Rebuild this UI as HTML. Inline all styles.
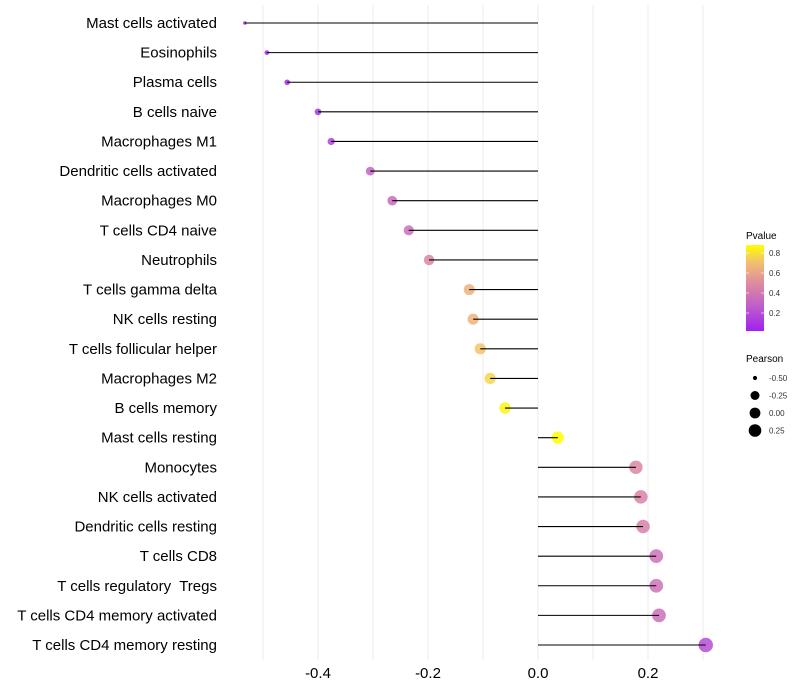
<!DOCTYPE html>
<html><head><meta charset="utf-8"><style>
html,body{margin:0;padding:0;background:#fff;}
svg{display:block;font-family:"Liberation Sans",Arial,sans-serif;}
</style></head><body>
<svg id="chart" width="800" height="700" viewBox="0 0 800 700">
<defs>
<linearGradient id="pgrad" x1="0" y1="1" x2="0" y2="0">
<stop offset="0" stop-color="#a020f0"/>
<stop offset="0.3" stop-color="#c060c8"/>
<stop offset="0.55" stop-color="#de8aa0"/>
<stop offset="0.8" stop-color="#f2c070"/>
<stop offset="1" stop-color="#ffff00"/>
</linearGradient>
</defs>
<g id="grid"></g>
<g id="marks"></g>
<g id="ylabels"></g>
<g id="xticks"></g>
<g>
<text x="746" y="239" font-size="10" fill="#000">Pvalue</text>
<rect x="746" y="245" width="18" height="86" fill="url(#pgrad)"/>
<g id="cbticks"></g>
</g>
<g id="sizelegend">
<text x="746" y="362" font-size="10" fill="#000">Pearson</text>
</g>
</svg>
<script>
const categories = ["Mast cells activated","Eosinophils","Plasma cells","B cells naive","Macrophages M1","Dendritic cells activated","Macrophages M0","T cells CD4 naive","Neutrophils","T cells gamma delta","NK cells resting","T cells follicular helper","Macrophages M2","B cells memory","Mast cells resting","Monocytes","NK cells activated","Dendritic cells resting","T cells CD8","T cells regulatory  Tregs","T cells CD4 memory activated","T cells CD4 memory resting"];
const pearson = [-0.533,-0.493,-0.456,-0.40,-0.376,-0.305,-0.265,-0.235,-0.198,-0.125,-0.118,-0.105,-0.087,-0.06,0.036,0.178,0.187,0.191,0.215,0.215,0.22,0.305];
const pvalue = [0.02,0.05,0.07,0.12,0.14,0.30,0.33,0.35,0.47,0.65,0.66,0.72,0.77,0.85,0.88,0.48,0.45,0.44,0.37,0.37,0.36,0.20];
const xTicks = [-0.4,-0.2,0.0,0.2];
const xTickLabels = ["-0.4","-0.2","0.0","0.2"];
const cbTicks = [0.2,0.4,0.6,0.8];
const sizeLegendVals = [-0.5,-0.25,0,0.25];
const sizeLegendLabels = ["-0.50","-0.25","0.00","0.25"];

const NS="http://www.w3.org/2000/svg";
const X0=538, XS=550;
const xScale=v=>X0+v*XS;
const yScale=i=>23+i*(622/21);
const sizeScale=p=>{
  const ps=[-0.55,-0.5,-0.25,0,0.25,0.35], rs=[1.5,2.3,5,6,7,7.4];
  if(p<=ps[0])return rs[0]; if(p>=ps[ps.length-1])return rs[rs.length-1];
  for(let i=0;i<ps.length-1;i++) if(p<=ps[i+1]){const t=(p-ps[i])/(ps[i+1]-ps[i]);return rs[i]+t*(rs[i+1]-rs[i]);}
};
const stops=[[0,[160,32,240]],[0.3,[192,96,200]],[0.55,[222,138,160]],[0.8,[242,192,112]],[1,[255,255,0]]];
const pMin=0.02,pMax=0.88;
function colorScale(p){
  let t=Math.max(0,Math.min(1,(p-pMin)/(pMax-pMin)));
  for(let i=0;i<stops.length-1;i++) if(t<=stops[i+1][0]){
    const u=(t-stops[i][0])/(stops[i+1][0]-stops[i][0]);
    const c=stops[i][1].map((a,k)=>Math.round(a+u*(stops[i+1][1][k]-a)));
    return `rgb(${c[0]},${c[1]},${c[2]})`;
  }
  return "rgb(255,255,0)";
}
function mk(tag,attrs,parent){const e=document.createElementNS(NS,tag);for(const k in attrs)e.setAttribute(k,attrs[k]);parent.appendChild(e);return e;}

const grid=document.getElementById('grid');
for(let v=-0.5;v<=0.35;v+=0.1){
  const g=mk('line',{x1:xScale(v),x2:xScale(v),y1:5,y2:660,stroke:'#ebebeb','stroke-width':1},grid);
  
  
}
const marks=document.getElementById('marks');
const yl=document.getElementById('ylabels');
categories.forEach((c,i)=>{
  const y=yScale(i);
  const pt=mk('circle',{cx:xScale(pearson[i]),cy:y,r:sizeScale(pearson[i]),fill:colorScale(pvalue[i]),'fill-opacity':0.85},marks);
  
  
  const ln=mk('line',{x1:xScale(0),x2:xScale(pearson[i]),y1:y,y2:y,stroke:'#000','stroke-width':1.1},marks);
  
  
  const t=mk('text',{x:217,y:y+5,'text-anchor':'end','font-size':15,fill:'#000'},yl);
  t.textContent=c;
  t.style.whiteSpace='pre';
  
  
});
const xt=document.getElementById('xticks');
xTicks.forEach((v,i)=>{
  const t=mk('text',{x:xScale(v),y:678,'text-anchor':'middle','font-size':15,fill:'#000'},xt);
  t.textContent=xTickLabels[i];
  
  
});
const cb=document.getElementById('cbticks');
cbTicks.forEach(v=>{
  const y=253+(0.8-v)*100;
  const a=mk('line',{x1:746,x2:749,y1:y,y2:y,stroke:'#fff','stroke-width':0.6},cb);
  
  
  const b=mk('line',{x1:761,x2:764,y1:y,y2:y,stroke:'#fff','stroke-width':0.6},cb);
  
  
  const t=mk('text',{x:769,y:y+3,'font-size':8,fill:'#333'},cb);
  t.textContent=v.toFixed(1);
  
  
});
const sl=document.getElementById('sizelegend');
sizeLegendVals.forEach((v,i)=>{
  const y=378+i*17.5;
  const c=mk('circle',{cx:755,cy:y,r:sizeScale(v)*0.9,fill:'#000'},sl);
  
  
  const t=mk('text',{x:769,y:y+3,'font-size':8,fill:'#333'},sl);
  t.textContent=sizeLegendLabels[i];
  
  
});
</script>
</body></html>
